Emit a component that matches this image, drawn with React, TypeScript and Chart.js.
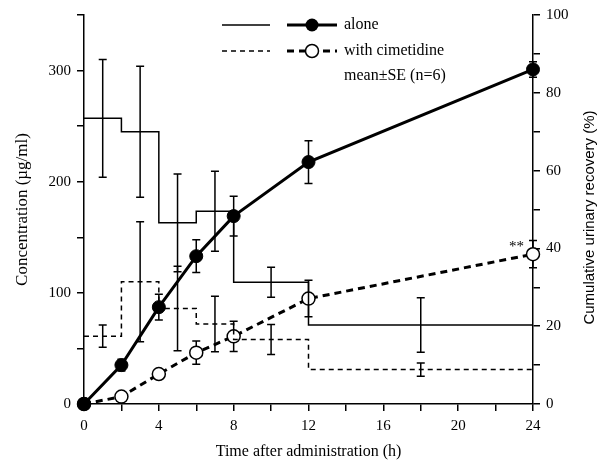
import React, { useEffect, useRef } from 'react';
import { Chart, registerables } from 'chart.js';

Chart.register(...registerables);

// ---- data ----
const stepTimes = [0, 2, 4, 6, 8, 12, 24];
const concAlone = [257, 245, 163, 173.5, 109.5, 71, 71];
const concCim = [61, 110, 86, 72, 58, 31, 31];
const seTimes = [1, 3, 5, 7, 10, 18];
const concAloneSE = [53, 59, 44, 36, 13.5, 24.5];
const concCimSE = [10, 54, 38, 25, 13.5, 6];
const recTimes = [0, 2, 4, 6, 8, 12, 24];
const recAlone = [0, 10, 24.9, 38, 48.3, 62.2, 86];
const recAloneSE = [0, 1.5, 3.3, 4.2, 5.1, 5.5, 2];
const recCim = [0, 1.9, 7.7, 13.2, 17.4, 27.1, 38.5];
const recCimSE = [0, 0.8, 1.2, 3, 3.9, 4.7, 3.5];
const xLabelTicks = [0, 4, 8, 12, 16, 20, 24];
const yLabelTicks = [0, 100, 200, 300];
const y1LabelTicks = [0, 20, 40, 60, 80, 100];
const legendLabels = ['alone', 'with cimetidine', 'mean\u00B1SE (n=6)'];
const xTitle = 'Time after administration (h)';
const yTitle = 'Concentration (\u00B5g/ml)';
const y1Title = 'Cumulative urinary recovery (%)';
const significance = '**';

const SERIF = '"Liberation Serif", "Times New Roman", serif';
const SANS = '"Liberation Sans", Arial, sans-serif';

const pts = (xs: number[], ys: number[]) => xs.map((x, i) => ({ x, y: ys[i] }));

const extrasPlugin = {
  id: 'extras',
  beforeDatasetsDraw(chart: any) {
    const ctx = chart.ctx;
    const xs = chart.scales.x;
    const ys = chart.scales.y;
    const y1 = chart.scales.y1;
    const cap = 4;
    const bar = (scaleY: any, x: number, v: number, e: number) => {
      if (!e) return;
      const px = xs.getPixelForValue(x);
      const top = scaleY.getPixelForValue(v + e);
      const bot = scaleY.getPixelForValue(v - e);
      ctx.beginPath();
      ctx.moveTo(px, top);
      ctx.lineTo(px, bot);
      ctx.moveTo(px - cap, top);
      ctx.lineTo(px + cap, top);
      ctx.moveTo(px - cap, bot);
      ctx.lineTo(px + cap, bot);
      ctx.stroke();
    };
    ctx.save();
    ctx.strokeStyle = '#000';
    ctx.lineWidth = 1.5;
    ctx.setLineDash([]);
    seTimes.forEach((t, i) => {
      bar(ys, t, concAlone[i], concAloneSE[i]);
      bar(ys, t, concCim[i], concCimSE[i]);
    });
    recTimes.forEach((t, i) => {
      bar(y1, t, recAlone[i], recAloneSE[i]);
      bar(y1, t, recCim[i], recCimSE[i]);
    });
    ctx.restore();
  },
  afterDraw(chart: any) {
    const ctx = chart.ctx;
    const xs = chart.scales.x;
    const y1 = chart.scales.y1;
    ctx.save();
    ctx.fillStyle = '#000';
    ctx.strokeStyle = '#000';
    // legend
    const rows = [25, 51, 76];
    const l1 = [222, 270];
    const l2 = [287, 337];
    const tx = 344;
    ctx.lineWidth = 1.5;
    ctx.setLineDash([]);
    ctx.beginPath(); ctx.moveTo(l1[0], rows[0]); ctx.lineTo(l1[1], rows[0]); ctx.stroke();
    ctx.setLineDash([5, 4]);
    ctx.beginPath(); ctx.moveTo(l1[0], rows[1]); ctx.lineTo(l1[1], rows[1]); ctx.stroke();
    ctx.lineWidth = 3;
    ctx.setLineDash([]);
    ctx.beginPath(); ctx.moveTo(l2[0], rows[0]); ctx.lineTo(l2[1], rows[0]); ctx.stroke();
    ctx.setLineDash([7, 5]);
    ctx.beginPath(); ctx.moveTo(l2[0], rows[1]); ctx.lineTo(l2[1], rows[1]); ctx.stroke();
    ctx.setLineDash([]);
    const cx = (l2[0] + l2[1]) / 2;
    ctx.beginPath(); ctx.arc(cx, rows[0], 6.5, 0, Math.PI * 2); ctx.fill();
    ctx.fillStyle = '#fff';
    ctx.lineWidth = 1.5;
    ctx.beginPath(); ctx.arc(cx, rows[1], 6.5, 0, Math.PI * 2); ctx.fill(); ctx.stroke();
    ctx.fillStyle = '#000';
    ctx.font = `16px ${SERIF}`;
    ctx.textBaseline = 'middle';
    ctx.textAlign = 'left';
    legendLabels.forEach((s, i) => ctx.fillText(s, tx, rows[i]));
    // significance marker
    ctx.font = `15px ${SERIF}`;
    ctx.textAlign = 'right';
    ctx.fillText(significance, xs.getPixelForValue(24) - 9, y1.getPixelForValue(recCim[6]) - 7);
    // right axis title (reads bottom-to-top)
    ctx.font = `15px ${SANS}`;
    ctx.textAlign = 'center';
    ctx.translate(590, (y1.top + y1.bottom) / 2 + 8);
    ctx.rotate(-Math.PI / 2);
    ctx.fillText(y1Title, 0, 0);
    ctx.restore();
  },
};

export default function App() {
  const ref = useRef<HTMLCanvasElement | null>(null);
  useEffect(() => {
    if (!ref.current) return;
    const tickFont = { family: SERIF, size: 15 };
    const grid = { drawOnChartArea: false, drawTicks: true, tickLength: 7, color: '#000', lineWidth: 1.5 };
    const border = { display: true, color: '#000', width: 1.5 };
    const chart = new Chart(ref.current, {
      type: 'line',
      data: {
        datasets: [
          {
            data: pts(stepTimes, concAlone), yAxisID: 'y', stepped: 'before',
            borderColor: '#000', borderWidth: 1.5, pointRadius: 0, fill: false, clip: false,
          },
          {
            data: pts(stepTimes, concCim), yAxisID: 'y', stepped: 'before',
            borderColor: '#000', borderWidth: 1.5, borderDash: [5, 4], pointRadius: 0, fill: false, clip: false,
          },
          {
            data: pts(recTimes, recAlone), yAxisID: 'y1',
            borderColor: '#000', borderWidth: 3, pointRadius: 6.5, pointBackgroundColor: '#000',
            pointBorderColor: '#000', pointBorderWidth: 1, fill: false, clip: false,
          },
          {
            data: pts(recTimes, recCim), yAxisID: 'y1',
            borderColor: '#000', borderWidth: 3, borderDash: [7, 5], pointRadius: 6.5,
            pointBackgroundColor: '#fff', pointBorderColor: '#000', pointBorderWidth: 1.5, fill: false, clip: false,
          },
        ],
      } as any,
      options: {
        animation: false,
        responsive: false,
        devicePixelRatio: 1,
        layout: { padding: { top: 14, left: 0, right: 0, bottom: 0 } },
        plugins: { legend: { display: false }, tooltip: { enabled: false } },
        elements: { line: { tension: 0 } },
        scales: {
          x: {
            type: 'linear', min: 0, max: 24,
            grid, border,
            ticks: {
              stepSize: 2, color: '#000', font: tickFont, padding: 6, maxRotation: 0,
              callback: (v: any) => (xLabelTicks.includes(Number(v)) ? String(v) : ''),
            },
            title: { display: true, text: xTitle, color: '#000', font: { family: SERIF, size: 16 }, padding: { top: 0, bottom: 7 } },
            afterFit: (s: any) => { s.height = 64; },
          },
          y: {
            type: 'linear', position: 'left', min: 0, max: 350,
            grid, border,
            ticks: {
              stepSize: 50, color: '#000', font: tickFont, padding: 6,
              callback: (v: any) => (yLabelTicks.includes(Number(v)) ? String(v) : ''),
            },
            title: { display: true, text: yTitle, color: '#000', font: { family: SERIF, size: 17 }, padding: { top: 12, bottom: 0 } },
            afterFit: (s: any) => { s.width = 84; },
          },
          y1: {
            type: 'linear', position: 'right', min: 0, max: 100,
            grid, border,
            ticks: {
              stepSize: 10, color: '#000', font: tickFont, padding: 6,
              callback: (v: any) => (y1LabelTicks.includes(Number(v)) ? String(v) : ''),
            },
            afterFit: (s: any) => { s.width = 77; },
          },
        },
      } as any,
      plugins: [extrasPlugin],
    });
    return () => chart.destroy();
  }, []);
  return (
    <div style={{ position: 'fixed', left: 0, top: 0, width: 610, height: 468, background: '#fff' }}>
      <canvas ref={ref} width={610} height={468} style={{ display: 'block' }} />
    </div>
  );
}
